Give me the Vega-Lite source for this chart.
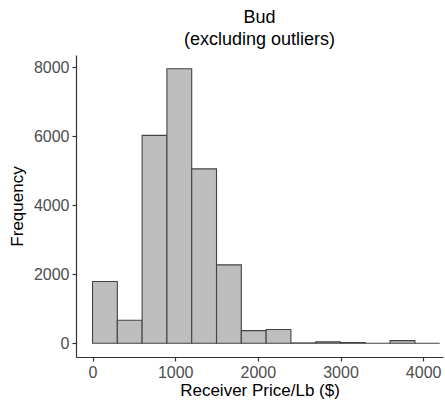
{
  "$schema": "https://vega.github.io/schema/vega-lite/v6.json",
  "width": 367,
  "height": 302,
  "autosize": {"type": "none"},
  "padding": {"left": 76, "top": 55, "right": 2, "bottom": 47},
  "background": "white",
  "config": {
    "font": "Liberation Sans",
    "view": {"stroke": null},
    "axis": {"grid": false, "domainColor": "#333333", "domainWidth": 1.2, "tickColor": "#333333", "tickWidth": 1.2, "tickSize": 4, "labelColor": "#4d4d4d", "labelFontSize": 16, "titleFontSize": 17, "titleFontWeight": "normal", "titleColor": "#000000", "labelFont": "Liberation Sans", "titleFont": "Liberation Sans", "format": "d"}
  },
  "title": {"text": ["Bud", "(excluding outliers)"], "fontSize": 18, "fontWeight": "normal", "font": "Liberation Sans", "color": "#000000", "anchor": "middle", "lineHeight": 22, "offset": 6},
  "data": {"values": [
    {"start": 0, "end": 300, "count": 1790},
    {"start": 300, "end": 600, "count": 667},
    {"start": 600, "end": 900, "count": 6020},
    {"start": 900, "end": 1200, "count": 7950},
    {"start": 1200, "end": 1500, "count": 5050},
    {"start": 1500, "end": 1800, "count": 2270},
    {"start": 1800, "end": 2100, "count": 367},
    {"start": 2100, "end": 2400, "count": 397},
    {"start": 2400, "end": 2700, "count": 10},
    {"start": 2700, "end": 3000, "count": 39},
    {"start": 3000, "end": 3300, "count": 20},
    {"start": 3300, "end": 3600, "count": 0},
    {"start": 3600, "end": 3900, "count": 77},
    {"start": 3900, "end": 4200, "count": 0}
  ]},
  "mark": {"type": "bar", "fill": "#bebebe", "stroke": "#444444", "strokeWidth": 1.1, "clip": true},
  "encoding": {
    "x": {"field": "start", "type": "quantitative", "scale": {"domain": [-200, 4240], "nice": false, "zero": false}, "axis": {"values": [0, 1000, 2000, 3000, 4000], "title": "Receiver Price/Lb ($)", "labelPadding": 3, "titlePadding": 2}},
    "x2": {"field": "end"},
    "y": {"field": "count", "type": "quantitative", "scale": {"domain": [-398, 8348], "nice": false, "zero": false}, "axis": {"values": [0, 2000, 4000, 6000, 8000], "title": "Frequency", "labelPadding": 3, "titlePadding": 7}},
    "y2": {"datum": 0}
  }
}
